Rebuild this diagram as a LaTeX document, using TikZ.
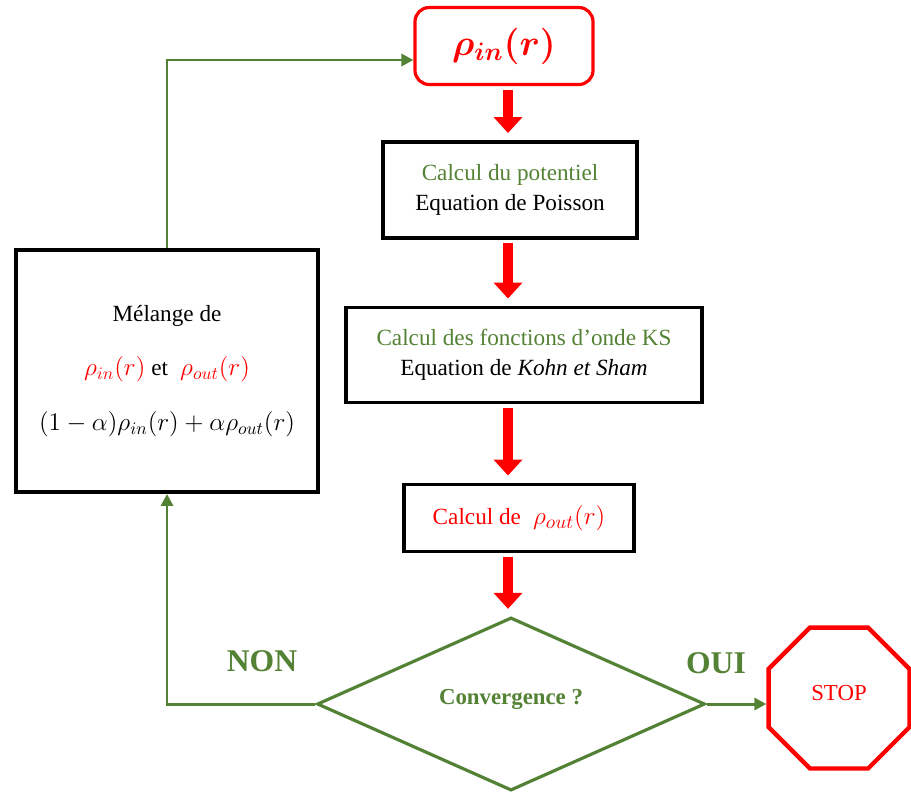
\documentclass[tikz,border=0pt]{standalone}
\usepackage{amsmath}
\usepackage{amssymb}
\usepackage{fontspec}
\setmainfont{Liberation Serif}
\usepackage{tikz}
\usetikzlibrary{arrows.meta,shapes}
\definecolor{oliv}{RGB}{84,130,53}
\tikzstyle{stepbox}=[rectangle, draw
,line width=2.2pt
,align=center
,font=\fontsize{13.2}{17}\selectfont
]
\tikzstyle{redarrow} = [draw,red,line width=5.5pt,shorten >=4pt,shorten <=2pt,-{Triangle[width=0.56cm,length=0.32cm]}]
\tikzstyle{loopline} = [draw,oliv,line width=1.7pt,-{Triangle[width=0.24cm,length=0.24cm]}]

\begin{document}
\begin{tikzpicture}[x=0.02cm,y=-0.02cm]
    \useasboundingbox (0,0) rectangle (911,792);
    % The boxes of the cycle
    \node[draw=red,line width=1.8pt,rounded corners=8pt,minimum width=3.56cm,minimum height=1.54cm,text=red] (rhoin) at (504,46) {\fontsize{20}{24}\selectfont$\boldsymbol{\rho_{in}(r)}$};
    \node[stepbox,minimum width=5.08cm,minimum height=1.92cm] (potentiel) at (510,190) {\textcolor{oliv}{Calcul du potentiel}\\ Equation de Poisson};
    \node[stepbox,minimum width=7.12cm,minimum height=1.9cm] (ondes) at (524,355) {\textcolor{oliv}{Calcul des fonctions d’onde KS}\\ Equation de \textit{Kohn et Sham}};
    \node[stepbox,minimum width=4.6cm,minimum height=1.34cm,text=red] (densite) at (519,518) {Calcul de \;{\fontsize{15}{17}\selectfont$\rho_{out}(r)$}};
    \node[stepbox,minimum width=6.04cm,minimum height=4.84cm] (melange) at (167,371) {M\'elange de\\[0.5cm]
        {\fontsize{14}{17}\selectfont\textcolor{red}{$\rho_{in}(r)$}} et \;{\fontsize{14}{17}\selectfont\textcolor{red}{$\rho_{out}(r)$}}\\[0.5cm]
        {\fontsize{14}{17}\selectfont$(1-\alpha)\rho_{in}(r)+\alpha\rho_{out}(r)$}};
    \node[diamond,draw=oliv,line width=1.8pt,minimum width=7.76cm,minimum height=3.44cm,inner sep=0pt] (conv) at (511,704) {\raisebox{0.28cm}{\textcolor{oliv}{\fontsize{13}{15}\selectfont\bfseries Convergence ?}}};
    \node[regular polygon,regular polygon sides=8,draw=red,line width=2.5pt,minimum size=3.05cm,text=red] (stop) at (839,698) {\raisebox{0.2cm}{\fontsize{13}{15}\selectfont STOP}};

    % Labels of the test
    \node[text=oliv,font=\fontsize{18}{20}\selectfont\bfseries] (non) at (262,661) {NON};
    \node[text=oliv,font=\fontsize{18}{20}\selectfont\bfseries] (oui) at (716,663) {OUI};

    % Connect the boxes
    \coordinate (axis) at (508,0);
    \foreach \source/\dest in {rhoin/potentiel, potentiel/ondes, ondes/densite, densite/conv}
        \path[redarrow] (axis |- \source.south) -- (axis |- \dest.north);
    \path[loopline] (conv.west) -| (melange.south);
    \path[loopline] (melange.north) |- ([yshift=-0.28cm]rhoin.west);
    \path[loopline] (conv.east) -- (conv.east -| stop.west);
\end{tikzpicture}
\end{document}
